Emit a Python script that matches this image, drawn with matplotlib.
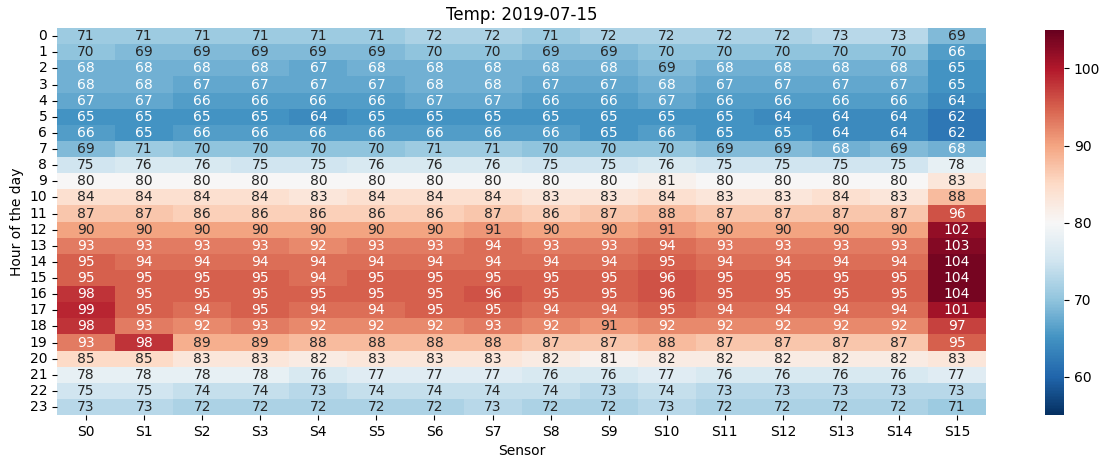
import numpy as np
import pandas as pd
import matplotlib
matplotlib.use("Agg")
import matplotlib.pyplot as plt
import seaborn as sns

sensors = ["S%d" % i for i in range(16)]
hours = list(range(24))

# temperature per hour (rows) and sensor (columns)
temps = [
    [71, 71, 71, 71, 71, 71, 72, 72, 71, 72, 72, 72, 72, 73, 73, 69],
    [70, 69, 69, 69, 69, 69, 70, 70, 69, 69, 70, 70, 70, 70, 70, 66],
    [68, 68, 68, 68, 67, 68, 68, 68, 68, 68, 69, 68, 68, 68, 68, 65],
    [68, 68, 67, 67, 67, 67, 68, 68, 67, 67, 68, 67, 67, 67, 67, 65],
    [67, 67, 66, 66, 66, 66, 67, 67, 66, 66, 67, 66, 66, 66, 66, 64],
    [65, 65, 65, 65, 64, 65, 65, 65, 65, 65, 65, 65, 64, 64, 64, 62],
    [66, 65, 66, 66, 66, 66, 66, 66, 66, 65, 66, 65, 65, 64, 64, 62],
    [69, 71, 70, 70, 70, 70, 71, 71, 70, 70, 70, 69, 69, 68, 69, 68],
    [75, 76, 76, 75, 75, 76, 76, 76, 75, 75, 76, 75, 75, 75, 75, 78],
    [80, 80, 80, 80, 80, 80, 80, 80, 80, 80, 81, 80, 80, 80, 80, 83],
    [84, 84, 84, 84, 83, 84, 84, 84, 83, 83, 84, 83, 83, 84, 83, 88],
    [87, 87, 86, 86, 86, 86, 86, 87, 86, 87, 88, 87, 87, 87, 87, 96],
    [90, 90, 90, 90, 90, 90, 90, 91, 90, 90, 91, 90, 90, 90, 90, 102],
    [93, 93, 93, 93, 92, 93, 93, 94, 93, 93, 94, 93, 93, 93, 93, 103],
    [95, 94, 94, 94, 94, 94, 94, 94, 94, 94, 95, 94, 94, 94, 94, 104],
    [95, 95, 95, 95, 94, 95, 95, 95, 95, 95, 96, 95, 95, 95, 95, 104],
    [98, 95, 95, 95, 95, 95, 95, 96, 95, 95, 96, 95, 95, 95, 95, 104],
    [99, 95, 94, 95, 94, 94, 95, 95, 94, 94, 95, 94, 94, 94, 94, 101],
    [98, 93, 92, 93, 92, 92, 92, 93, 92, 91, 92, 92, 92, 92, 92, 97],
    [93, 98, 89, 89, 88, 88, 88, 88, 87, 87, 88, 87, 87, 87, 87, 95],
    [85, 85, 83, 83, 82, 83, 83, 83, 82, 81, 82, 82, 82, 82, 82, 83],
    [78, 78, 78, 78, 76, 77, 77, 77, 76, 76, 77, 76, 76, 76, 76, 77],
    [75, 75, 74, 74, 73, 74, 74, 74, 74, 73, 74, 73, 73, 73, 73, 73],
    [73, 73, 72, 72, 72, 72, 72, 73, 72, 72, 73, 72, 72, 72, 72, 71],
]

df = pd.DataFrame(temps, index=hours, columns=sensors)

fig = plt.figure(figsize=(11.1, 4.68), dpi=100)
ax = fig.add_axes([0.0514, 0.113, 0.837, 0.827])
cax = fig.add_axes([0.9415, 0.113, 0.0171, 0.823])

sns.heatmap(df, ax=ax, cbar_ax=cax, cmap="RdBu_r", vmin=55, vmax=105,
            annot=True, fmt=".0f")
ax.set_yticklabels(ax.get_yticklabels(), rotation=0)
ax.set_xlabel("Sensor")
ax.set_ylabel("Hour of the day")
ax.set_title("Temp: 2019-07-15")

fig.savefig("out.png", dpi=100)
